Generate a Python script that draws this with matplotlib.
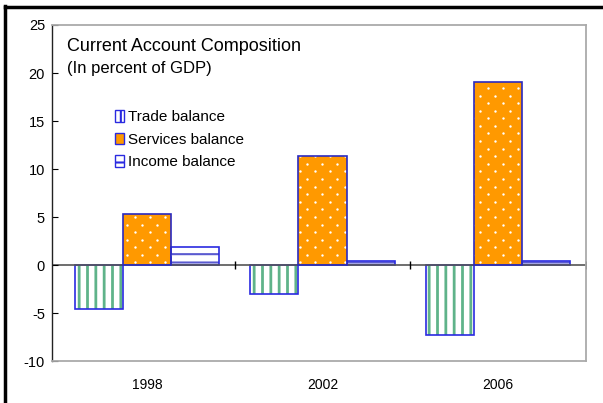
import numpy as np
import matplotlib.pyplot as plt
from matplotlib.patches import Patch
from matplotlib.lines import Line2D

plt.rcParams["font.family"] = ["Liberation Sans", "DejaVu Sans"]
plt.rcParams["axes.unicode_minus"] = False
plt.rcParams["hatch.linewidth"] = 2.0

years = ["1998", "2002", "2006"]
trade = [-4.6, -3.0, -7.3]
services = [5.3, 11.4, 19.1]
income = [1.9, 0.4, 0.4]

x = np.arange(len(years))
w = 0.274
edge = "#2a2ae0"
orange = "#ff9900"

fig = plt.figure(figsize=(6.03, 4.03), dpi=100)
ax = fig.add_axes([0.0862, 0.104, 0.8856, 0.834])
ax.set_xlim(-0.54, 2.5)
ax.set_ylim(-10, 25)

# trade balance: green vertical stripes on white
ax.bar(x - w, trade, w, color="white", edgecolor="#5fb38a", hatch="||", linewidth=0)
ax.bar(x - w, trade, w, fill=False, edgecolor=edge, linewidth=1.2)

# services balance: orange with a staggered grid of small white dots
svc = ax.bar(x, services, w, color=orange, linewidth=0)
dx, dy = 0.0855, 0.79
gy = np.arange(-10, 25, dy)
for i, yy in enumerate(gy):
    gx = np.arange(-0.54 + (i % 2) * dx / 2, 2.5, dx)
    for p in svc.patches:
        dots = ax.scatter(gx, np.full_like(gx, yy), s=3, color="white",
                          linewidths=0, zorder=2.5)
        dots.set_clip_path(p)
ax.bar(x, services, w, fill=False, edgecolor="#2a2ac0", linewidth=1.2, zorder=3)

# income balance: blue horizontal lines on white
plt.rcParams["hatch.linewidth"] = 1.5
ax.bar(x + w, income, w, color="white", edgecolor="#5a5ad0", hatch="--", linewidth=0)
ax.bar(x + w, income, w, fill=False, edgecolor=edge, linewidth=1.2)

ax.axhline(0, color="#555555", linewidth=1.2, zorder=1)
ax.plot([0.5, 1.5, 2.5], [0, 0, 0], linestyle="none", marker="|",
        markersize=6, color="black", markeredgewidth=1)

ax.set_yticks(range(-10, 26, 5))
ax.set_xticks(x)
ax.set_xticklabels(years)
ax.tick_params(axis="x", length=0, pad=12, labelsize=10)
ax.tick_params(axis="y", direction="in", length=4, pad=5, labelsize=10.5)

for side in ["top", "right", "bottom"]:
    ax.spines[side].set_color("#aaaaaa")
    ax.spines[side].set_linewidth(1.3)
ax.spines["left"].set_color("#222222")
ax.spines["left"].set_linewidth(1.0)

ax.text(0.028, 0.96, "Current Account Composition", transform=ax.transAxes,
        fontsize=13, va="top", ha="left")
ax.text(0.028, 0.893, "(In percent of GDP)", transform=ax.transAxes,
        fontsize=12, va="top", ha="left")

handles = [
    Patch(facecolor="white", edgecolor=edge, hatch="||", label="Trade balance"),
    Patch(facecolor=orange, edgecolor=edge, label="Services balance"),
    Patch(facecolor="white", edgecolor=edge, hatch="--", label="Income balance"),
]
ax.legend(handles=handles, loc="upper left", bbox_to_anchor=(0.106, 0.765),
          frameon=False, fontsize=11, handlelength=0.6, handleheight=0.8,
          handletextpad=0.3, labelspacing=0.55, borderaxespad=0)

# outer frame on left and top edges
fig.add_artist(Line2D([0.0085, 0.0085], [0, 0.985], color="black", linewidth=2.5,
                      transform=fig.transFigure))
fig.add_artist(Line2D([0.0085, 1.0], [0.983, 0.983], color="black", linewidth=2.5,
                      transform=fig.transFigure))

fig.savefig("out.png", dpi=100)
